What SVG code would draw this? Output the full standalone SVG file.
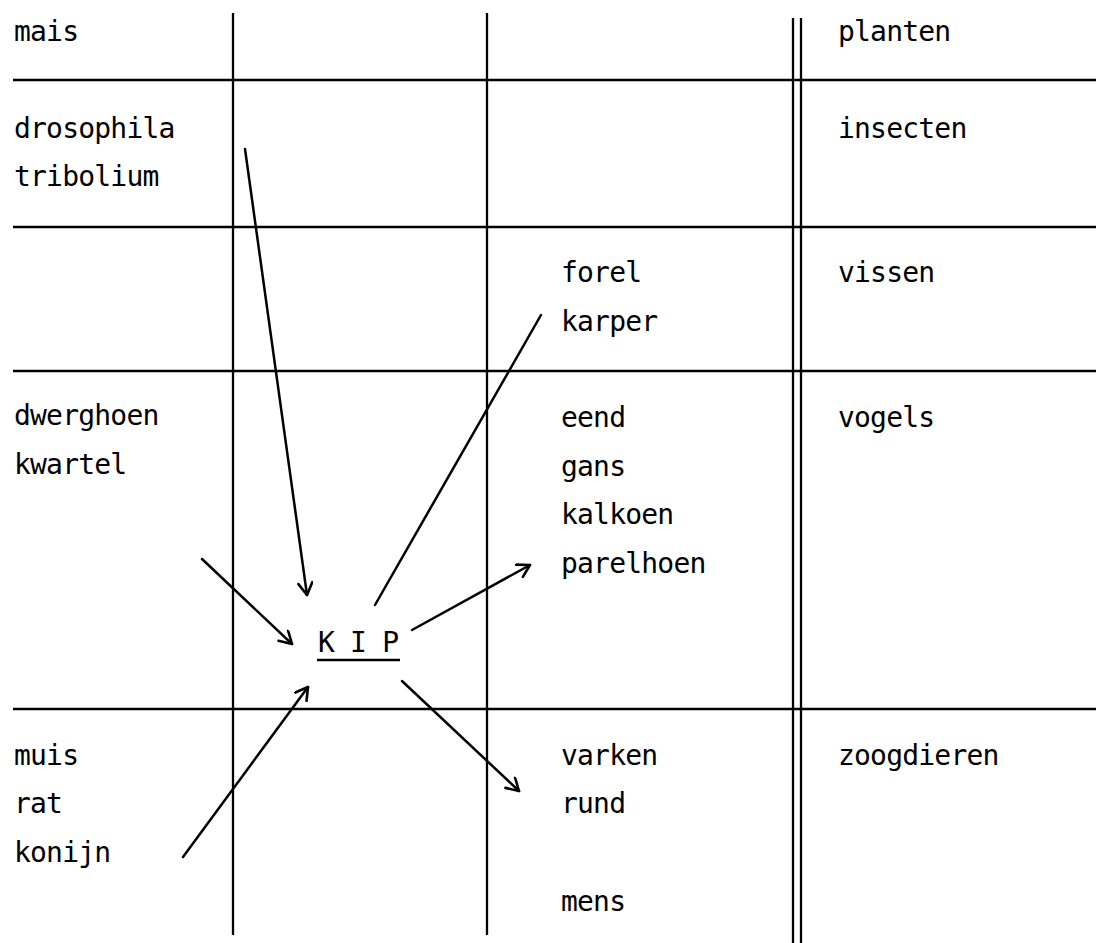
<svg xmlns="http://www.w3.org/2000/svg" width="1096" height="943" viewBox="0 0 1096 943">
<style>
text{font-family:"DejaVu Sans Mono","Liberation Mono",monospace;font-size:28px;letter-spacing:-0.8px;fill:#000}
.grid line{stroke:#000;stroke-width:2.3}
.conn line{stroke:#000;stroke-width:2.5;stroke-linecap:round}
</style>
<defs>
<marker id="ah" markerUnits="userSpaceOnUse" markerWidth="30" markerHeight="30" refX="14" refY="8" orient="auto">
<path d="M2,1 L14,8 L2,15" fill="none" stroke="#000" stroke-width="2.6" stroke-linecap="round" stroke-linejoin="round"/>
</marker>
</defs>
<rect width="1096" height="943" fill="#fff"/>
<g class="grid" id="grid">
<line x1="233" y1="13" x2="233" y2="935"/>
<line x1="487" y1="13" x2="487" y2="935"/>
<line x1="793" y1="18" x2="793" y2="943"/>
<line x1="801" y1="18" x2="801" y2="943"/>
<line x1="13" y1="80" x2="1096" y2="80"/>
<line x1="13" y1="227" x2="1096" y2="227"/>
<line x1="13" y1="371" x2="1096" y2="371"/>
<line x1="13" y1="709" x2="1096" y2="709"/>
</g>
<g id="left-col">
<text x="14" y="41">mais</text>
<text x="14" y="138">drosophila</text>
<text x="14" y="186">tribolium</text>
<text x="14" y="425">dwerghoen</text>
<text x="14" y="474">kwartel</text>
<text x="14" y="765">muis</text>
<text x="14" y="813">rat</text>
<text x="14" y="862">konijn</text>
</g>
<g id="mid-col">
<text x="561" y="282">forel</text>
<text x="561" y="331">karper</text>
<text x="561" y="427">eend</text>
<text x="561" y="476">gans</text>
<text x="561" y="524">kalkoen</text>
<text x="561" y="573">parelhoen</text>
<text x="561" y="765">varken</text>
<text x="561" y="813">rund</text>
<text x="561" y="911">mens</text>
</g>
<g id="right-col">
<text x="838" y="41">planten</text>
<text x="838" y="138">insecten</text>
<text x="838" y="282">vissen</text>
<text x="838" y="427">vogels</text>
<text x="838" y="765">zoogdieren</text>
</g>
<g id="kip">
<text x="318" y="652">K I P</text>
<line x1="317" y1="660" x2="400" y2="660" stroke="#000" stroke-width="2.3"/>
</g>
<g class="conn" id="connectors">
<line x1="245" y1="149" x2="307" y2="595" marker-end="url(#ah)"/>
<line x1="202" y1="559" x2="292" y2="644" marker-end="url(#ah)"/>
<line x1="183" y1="857" x2="308" y2="687" marker-end="url(#ah)"/>
<line x1="375" y1="605" x2="541" y2="315"/>
<line x1="412" y1="630" x2="530" y2="565" marker-end="url(#ah)"/>
<line x1="402" y1="681" x2="519" y2="791" marker-end="url(#ah)"/>
</g>
</svg>
